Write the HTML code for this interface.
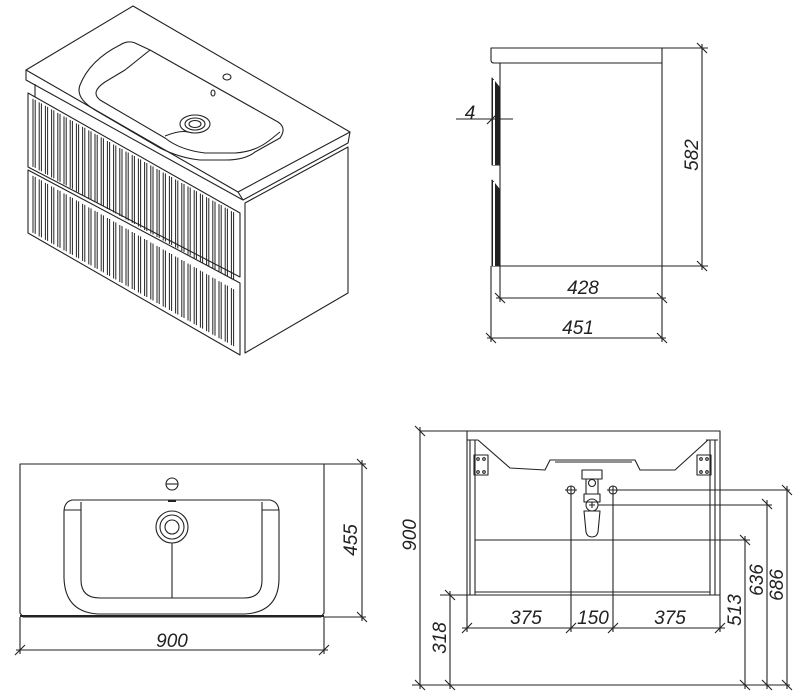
<!DOCTYPE html>
<html><head><meta charset="utf-8"><style>
html,body{margin:0;padding:0;background:#fff;}
svg{display:block}
text{font-family:"Liberation Sans",sans-serif;font-style:italic;font-size:19px;fill:#222}
</style></head><body>
<svg id="s" width="800" height="698" viewBox="0 0 800 698" xmlns="http://www.w3.org/2000/svg">
<g fill="none" stroke="#222" stroke-width="1.1" stroke-linejoin="round">
<!-- ISO VIEW -->
<path d="M26,70 L133,6 L350,132 L238,192 Z" fill="#fff"/>
<path d="M26,70 L26,80 L243,200 L348,143 L350,132"/>
<path d="M238,192 L243,200"/>
<!-- basin -->
<path d="M135,43 L150,50 L278,122 Q287,128 280,138 L255,152 Q245,160 225,160 L200,160 Q180,158 160,148 L95,110 Q75,98 80,85 Q90,60 120,45 Q128,40 135,43 Z"/>
<path d="M150,50 Q140,58 125,70 L105,82 Q90,92 100,100 L165,138 Q180,150 205,153 L235,153 Q255,152 270,140 L280,132"/>
<path d="M165,136 Q180,130 188,132"/>
<ellipse cx="195" cy="124" rx="15" ry="9"/><ellipse cx="195" cy="124" rx="10" ry="6"/><ellipse cx="195" cy="124" rx="6" ry="3.5"/>
<ellipse cx="227" cy="77" rx="4" ry="3"/><ellipse cx="213" cy="93" rx="2" ry="3"/>
<!-- cabinet -->
<path d="M35,84 L35,97"/>
<path d="M245,203 L348,147 L348,293 L245,353 Z"/>
<path d="M28,93 L240,213 L240,277 L28,167 Z"/>
<path d="M28,170 L240,283 L240,355 L28,233 Z"/>
<g id="fl" stroke-width="1"></g>
<!-- SIDE VIEW -->
<path d="M491,48 L662,48 L662,63 L494,63 Q491,63 491,60 Z"/>
<path d="M500,63 L500,266 L662,266 L662,63"/>
<path d="M492,78 L492,165 L500,165 L500,88 Z" fill="#222" stroke-width="1"/>
<path d="M492,180 L492,266 L500,266 L500,190 Z" fill="#222" stroke-width="1"/>
<path d="M494,80 L494,165 M494,182 L494,266" stroke="#fff" stroke-width="2"/>
<path d="M662,48 L708,48 M662,266 L708,266 M702,44 L702,270 M697,43 L707,53 M697,261 L707,271"/>
<path d="M500,266 L500,302 M662,266 L662,342 M491,266 L491,342 M496,298 L666,298 M495,293 L505,303 M657,293 L667,303 M487,338 L666,338 M486,333 L496,343 M657,333 L667,343"/>
<path d="M456,119 L513,119 M487,124 L497,114"/>
<!-- TOP VIEW -->
<path d="M20,464 L324,464 L324,613 L321,617 L23,617 L20,613 Z"/>
<path d="M20,616 L324,616" stroke-width="2"/>
<path d="M72,500 L270,500 Q279,502 279,512 L279,578 Q279,612 245,614 L98,614 Q65,612 64,578 L64,512 Q64,502 72,500 Z"/>
<path d="M81,502 L81,580 Q81,598 100,598 L244,598 Q262,598 262,580 L262,502"/>
<path d="M64,510 L81,510 M262,510 L279,510"/>
<circle cx="172" cy="527" r="16"/><circle cx="172" cy="527" r="12"/><circle cx="172" cy="527" r="7"/>
<path d="M172,543 L172,598"/>
<circle cx="172" cy="484" r="6"/><path d="M166,484 L178,484"/>
<path d="M168,501 L176,501" stroke-width="2"/>
<path d="M324,464 L366,464 M324,617 L366,617 M362,460 L362,621 M357,459 L367,469 M357,612 L367,622"/>
<path d="M20,617 L20,654 M324,617 L324,654 M16,650 L328,650 M15,655 L25,645 M319,655 L329,645"/>
<!-- FRONT VIEW -->
<path d="M467,431 L720,431 L720,595 M467,431 L467,595"/>
<path d="M470,440 L470,595 M475,440 L475,595 M467,440 L478,440 M710,440 L710,595 M715,440 L715,595 M706,440 L718,440"/>
<path d="M475,592 L710,592 M467,595 L720,595" />
<path d="M478,440 L510,468 L545,470 L550,460 L635,460 L640,470 L675,470 L708,440"/>
<path d="M555,462 L632,462"/>
<rect x="474" y="455" width="14" height="20"/><rect x="697" y="455" width="14" height="20"/>
<circle cx="478" cy="459" r="1.3"/><circle cx="484" cy="459" r="1.3"/><circle cx="478" cy="472" r="1.3"/><circle cx="484" cy="472" r="1.3"/>
<circle cx="701" cy="459" r="1.3"/><circle cx="707" cy="459" r="1.3"/><circle cx="701" cy="472" r="1.3"/><circle cx="707" cy="472" r="1.3"/>
<rect x="582" y="470" width="20" height="9"/>
<rect x="586" y="479" width="12" height="15"/><circle cx="592" cy="483" r="3.5"/>
<rect x="584" y="494" width="16" height="8"/>
<circle cx="592" cy="505" r="6"/><path d="M589,505 L595,505 M592,502 L592,508"/>
<path d="M584,511 L600,511 L598,532 Q597,537 592,537 Q587,537 586,532 Z"/>
<path d="M475,540 L750,540"/>
<circle cx="571" cy="490" r="4"/><circle cx="613" cy="490" r="4"/>
<path d="M565,490 L577,490 M607,490 L619,490 M571,486 L571,632 M613,486 L613,632"/>
<path d="M619,490 L790,490 M598,505 L772,505"/>
<path d="M420,431 L467,431 M420,427 L420,689 M415,426 L425,436 M412,685 L790,685 M415,680 L425,690"/>
<path d="M440,595 L475,595 M450,591 L450,689 M445,590 L455,600 M445,680 L455,690"/>
<path d="M745,536 L745,689 M740,535 L750,545 M740,680 L750,690"/>
<path d="M767,500 L767,689 M762,499 L772,509 M762,680 L772,690"/>
<path d="M787,486 L787,689 M782,485 L792,495 M782,680 L792,690"/>
<path d="M467,595 L467,632 M720,595 L720,632 M462,628 L725,628 M462,633 L472,623 M566,633 L576,623 M608,633 L618,623 M715,633 L725,623"/>
</g>
<g>
<text x="470" y="119" text-anchor="middle">4</text>
<text x="0" y="0" text-anchor="middle" transform="translate(698,155) rotate(-90)">582</text>
<text x="583" y="294" text-anchor="middle">428</text>
<text x="578" y="334" text-anchor="middle">451</text>
<text x="0" y="0" text-anchor="middle" transform="translate(357,540) rotate(-90)">455</text>
<text x="172" y="647" text-anchor="middle">900</text>
<text x="0" y="0" text-anchor="middle" transform="translate(416,535) rotate(-90)">900</text>
<text x="0" y="0" text-anchor="middle" transform="translate(446,638) rotate(-90)">318</text>
<text x="0" y="0" text-anchor="middle" transform="translate(741,610) rotate(-90)">513</text>
<text x="0" y="0" text-anchor="middle" transform="translate(763,580) rotate(-90)">636</text>
<text x="0" y="0" text-anchor="middle" transform="translate(783,585) rotate(-90)">686</text>
<text x="526" y="624" text-anchor="middle">375</text>
<text x="593" y="624" text-anchor="middle">150</text>
<text x="670" y="624" text-anchor="middle">375</text>
</g>
</svg>
<script>
var g=document.getElementById('fl'),d='';
function top1(x){return 93+(x-28)*0.566;}
for(var x=33;x<=236;x+=6.2){
 var t1=top1(x)+3,b1=top1(x)+74-3,t2=top1(x)+77+3,b2=top1(x)+140-3;
 d+='M'+x+','+t1+'L'+x+','+b1+'M'+(x+2.2)+','+(t1+1)+'L'+(x+2.2)+','+(b1+1);
 d+='M'+x+','+t2+'L'+x+','+b2+'M'+(x+2.2)+','+(t2+1)+'L'+(x+2.2)+','+(b2+1);
}
var p=document.createElementNS('http://www.w3.org/2000/svg','path');
p.setAttribute('d',d);g.appendChild(p);
</script>
</body></html>
